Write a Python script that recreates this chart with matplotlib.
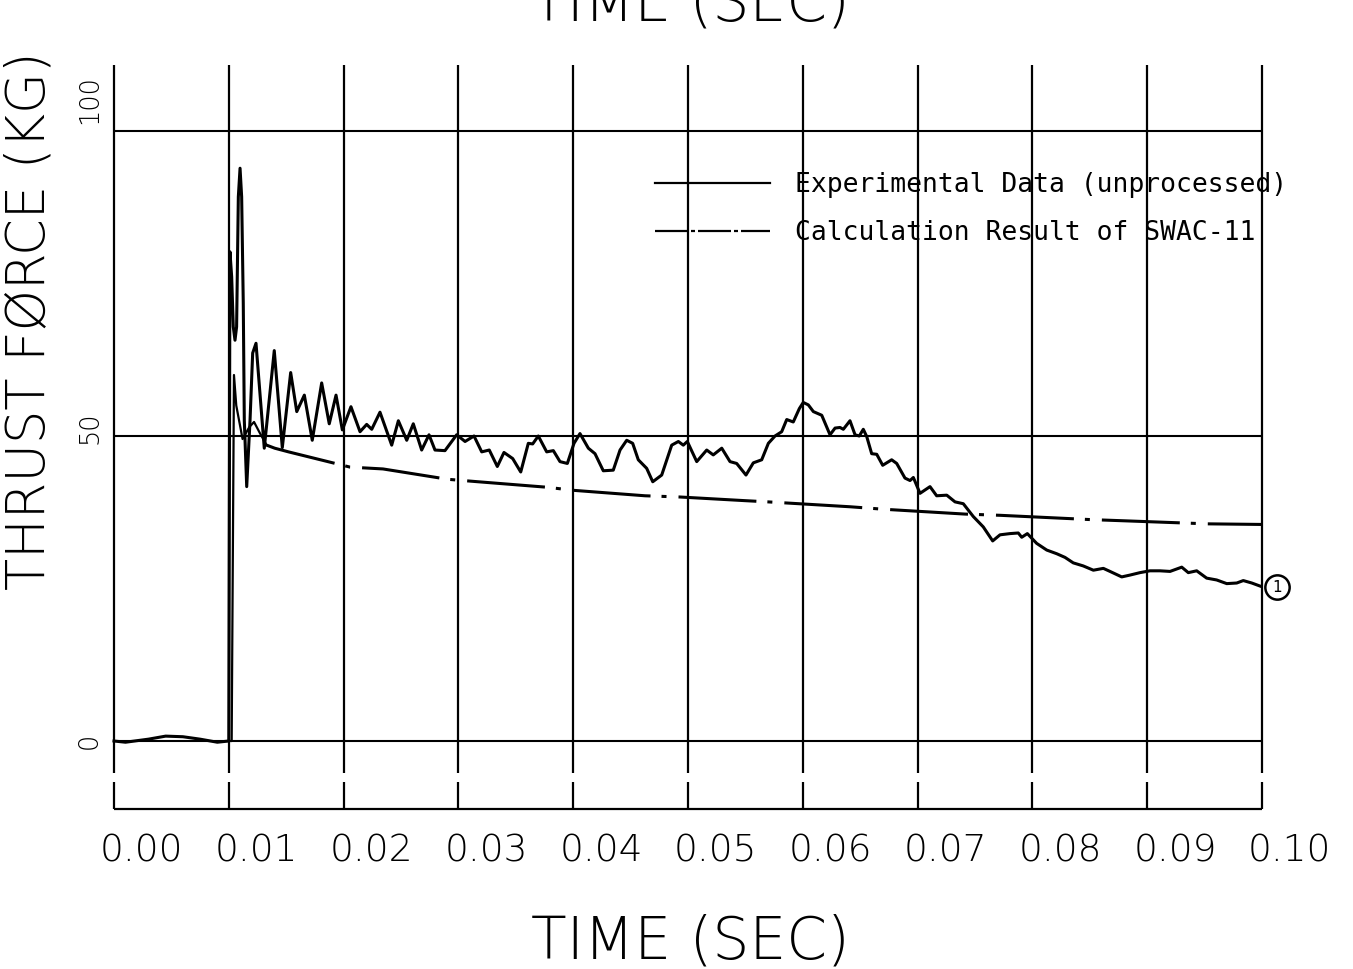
import numpy as np
import matplotlib
matplotlib.use("Agg")
import matplotlib.pyplot as plt
from matplotlib.lines import Line2D
from matplotlib.font_manager import FontProperties
import matplotlib.transforms as mtransforms

# ---------------- data ----------------
x_ticks = [0.00, 0.01, 0.02, 0.03, 0.04, 0.05, 0.06, 0.07, 0.08, 0.09, 0.10]
x_tick_labels = ["0.00", "0.01", "0.02", "0.03", "0.04", "0.05",
                 "0.06", "0.07", "0.08", "0.09", "0.10"]
y_grid = [0, 50, 100]
y_tick_labels = ["0", "50", "100"]
y_label_pos = [0.0, 51.3, 105.1]

exp_t = [0.0, 0.001, 0.003, 0.0045, 0.006, 0.0075, 0.009, 0.0100,
         0.01010, 0.01025, 0.01039, 0.01054, 0.01068, 0.01083, 0.01098, 0.01112,
         0.01126, 0.01135, 0.01156, 0.01185, 0.01208, 0.01237, 0.01309, 0.01396,
         0.01466, 0.01539, 0.01592, 0.01658, 0.01727, 0.01809, 0.01875, 0.01934,
         0.01989, 0.02064, 0.02143, 0.02201, 0.02245, 0.02317, 0.02419, 0.02477,
         0.02550, 0.02607, 0.02680, 0.02744, 0.02796, 0.02883, 0.02985, 0.03058,
         0.03136, 0.03203, 0.03269, 0.03339, 0.03397, 0.03473, 0.03543, 0.03609,
         0.03647, 0.03696, 0.03769, 0.03827, 0.03885, 0.03949, 0.04007, 0.04059,
         0.04132, 0.04190, 0.04262, 0.04349, 0.04408, 0.04466, 0.04518, 0.04567,
         0.04640, 0.04693, 0.04771, 0.04858, 0.04916, 0.04959, 0.04994, 0.05076,
         0.05163, 0.05220, 0.05294, 0.05366, 0.05424, 0.05505, 0.05569, 0.05642,
         0.05700, 0.05758, 0.05816, 0.05860, 0.05917, 0.05970, 0.06004, 0.06048,
         0.06092, 0.06165, 0.06237, 0.06281, 0.06324, 0.06353, 0.06411, 0.06455,
         0.06492, 0.06527, 0.06557, 0.06600, 0.06644, 0.06696, 0.06774, 0.06818,
         0.06890, 0.06934, 0.06963, 0.07021, 0.07108, 0.07166, 0.07254, 0.07326,
         0.07398, 0.07485, 0.07572, 0.07654, 0.07718, 0.07805, 0.07877, 0.07907,
         0.07956, 0.08037, 0.08125, 0.08212, 0.08284, 0.08356, 0.08443, 0.08531,
         0.08618, 0.08676, 0.08778, 0.08850, 0.08937, 0.09024, 0.09111, 0.09199,
         0.09301, 0.09358, 0.09431, 0.09518, 0.09605, 0.09693, 0.09780, 0.09837,
         0.09911, 0.09983]
exp_f = [0.0, -0.2, 0.3, 0.8, 0.7, 0.3, -0.2, 0.0,
         80.2, 76.1, 67.9, 65.7, 67.9, 89.2, 93.9, 89.2,
         71.8, 52.6, 41.7, 52.6, 63.6, 65.2, 48.0, 64.0,
         48.1, 60.4, 54.0, 56.7, 49.3, 58.7, 52.0, 56.7,
         51.0, 54.8, 50.7, 51.9, 51.1, 53.9, 48.5, 52.5,
         49.3, 52.0, 47.7, 50.2, 47.7, 47.6, 50.2, 49.1,
         50.0, 47.4, 47.7, 45.0, 47.3, 46.3, 44.1, 48.8,
         48.7, 50.0, 47.4, 47.6, 45.8, 45.5, 48.8, 50.4,
         48.0, 47.1, 44.3, 44.4, 47.7, 49.3, 48.8, 46.1,
         44.7, 42.5, 43.6, 48.5, 49.1, 48.5, 49.1, 45.8,
         47.7, 46.9, 48.0, 45.8, 45.5, 43.6, 45.6, 46.1,
         48.8, 50.0, 50.7, 52.7, 52.3, 54.5, 55.5, 55.1,
         54.0, 53.4, 50.2, 51.3, 51.4, 51.1, 52.5, 50.2,
         50.0, 51.1, 49.9, 47.1, 47.0, 45.2, 46.1, 45.5,
         43.1, 42.7, 43.2, 40.6, 41.7, 40.2, 40.3, 39.2,
         38.9, 36.8, 35.1, 32.8, 33.8, 34.0, 34.1, 33.4,
         34.0, 32.4, 31.3, 30.7, 30.1, 29.2, 28.7, 28.0,
         28.3, 27.8, 26.9, 27.2, 27.6, 27.9, 27.9, 27.8,
         28.5, 27.6, 27.9, 26.7, 26.4, 25.8, 25.9, 26.3,
         25.9, 25.4]

calc_t = [0.0100, 0.01025, 0.01045, 0.01065, 0.0112, 0.0118, 0.0122, 0.0127,
          0.0133, 0.0140, 0.0152, 0.02056, 0.02343, 0.02909, 0.03171, 0.03772,
          0.03998, 0.04626, 0.04930, 0.05497, 0.05697, 0.06411, 0.06699, 0.07413,
          0.07718, 0.08502, 0.08798, 0.09521, 0.1000]
calc_f = [0.0, 0.0, 60.0, 55.0, 49.5, 51.5, 52.3, 50.5,
          48.5, 48.0, 47.4, 44.9, 44.6, 42.9, 42.5, 41.6,
          41.1, 40.2, 40.0, 39.4, 39.2, 38.4, 38.0, 37.2,
          37.0, 36.3, 36.1, 35.6, 35.5]
calc_split = 8          # transient part drawn solid, remainder dash-dot

end_marker = (0.10131, 25.2)

legend_labels = ["Experimental Data (unprocessed)",
                 "Calculation Result of SWAC-11"]

# ---------------- figure ----------------
W, H, DPI = 1353, 969, 100
fig = plt.figure(figsize=(W / DPI, H / DPI), dpi=DPI)
fig.patch.set_facecolor("white")

ax_left, ax_right, ax_top, ax_bot = 114, 1262, 65, 809
ax = fig.add_axes([ax_left / W, 1 - ax_bot / H, (ax_right - ax_left) / W,
                   (ax_bot - ax_top) / H])
px_per_unit = 6.1
y0_px = 741
ylo = (y0_px - ax_bot) / px_per_unit
yhi = (y0_px - ax_top) / px_per_unit
ax.set_xlim(0, 0.1)
ax.set_ylim(ylo, yhi)
ax.axis("off")

# grid frame
gap_top = (y0_px - 773) / px_per_unit
gap_bot = (y0_px - 782) / px_per_unit
ax.vlines(x_ticks, gap_top, yhi, color="black", lw=1.6, clip_on=False, zorder=1)
ax.vlines(x_ticks, ylo, gap_bot, color="black", lw=1.6, clip_on=False, zorder=1)
ax.hlines(ylo, 0, 0.1, color="black", lw=1.6, clip_on=False, zorder=1)
ax.hlines(y_grid, 0, 0.1, color="black", lw=1.5, clip_on=False, zorder=1)

# experimental curve
ax.plot(exp_t, exp_f, color="black", lw=2.2, solid_joinstyle="round",
        clip_on=False, zorder=3)

# calculated curve
calc_lw = 2.2
ax.plot(calc_t[:calc_split + 1], calc_f[:calc_split + 1], color="black",
        lw=1.6, clip_on=False, zorder=3)
t_dash = calc_t[calc_split:]
f_dash = calc_f[calc_split:]
(calc_line,) = ax.plot(t_dash, f_dash, color="black", lw=calc_lw,
                       clip_on=False, zorder=3)
# dash pattern (pixels): dash 78, gap 11, dot 5, gap 12
u = calc_lw * DPI / 72.0
pat_px = [78, 11, 5, 12]
P = sum(pat_px)
pts = ax.transData.transform(np.column_stack([t_dash, f_dash]))
x0_px = float(ax.transData.transform((0.0, 0.0))[0])
dot_target = x0_px + (350.5 - 114)
s_dot = float(dot_target - pts[0, 0])
off_px = (91.5 - s_dot) % P
calc_line.set_linestyle((off_px / u, tuple(p / u for p in pat_px)))

ax.plot([end_marker[0]], [end_marker[1]], marker="o", ms=17.5, mfc="white",
        mec="black", mew=1.8, clip_on=False, zorder=4)
ax.text(end_marker[0], end_marker[1], "1", ha="center", va="center",
        fontsize=11, family="DejaVu Sans", zorder=5, clip_on=False)

# x tick labels
xoff = mtransforms.offset_copy(ax.transData, fig=fig, x=-14, y=0, units="dots")
y_lab = (y0_px - 862) / px_per_unit
for xv, lab in zip(x_ticks, x_tick_labels):
    ax.text(xv, y_lab, lab, ha="left", va="baseline", fontsize=27,
            family="DejaVu Sans", fontweight="light", transform=xoff,
            clip_on=False)

# y tick labels
yoff = mtransforms.offset_copy(ax.get_yaxis_transform(), fig=fig, x=-17, y=0,
                               units="dots")
for yv, lab in zip(y_label_pos, y_tick_labels):
    ax.text(0, yv, lab, rotation=90, rotation_mode="anchor", ha="center",
            va="baseline", fontsize=18.5, family="DejaVu Sans",
            fontweight="light", transform=yoff, clip_on=False)

# axis titles
fig.text(690 / W, 1 - 958 / H, "TIME (SEC)", ha="center", va="baseline",
         fontsize=42, family="DejaVu Sans", fontweight="light")
fig.text(690 / W, 1 - 21 / H, "TIME (SEC)", ha="center", va="baseline",
         fontsize=42, family="DejaVu Sans", fontweight="light")
fig.text(45 / W, 1 - 590 / H, "THRUST FØRCE (KG)", rotation=90,
         rotation_mode="anchor", ha="left", va="baseline", fontsize=38,
         family="DejaVu Sans", fontweight="light")

# legend
fs = 19
fs_px = fs * DPI / 72
h1 = Line2D([], [], color="black", lw=1.6)
lw2 = 1.6
u2 = lw2 * DPI / 72
h2 = Line2D([], [], color="black", lw=lw2,
            linestyle=(0, (33 / u2, 3 / u2, 4 / u2, 3 / u2)))
ax.legend([h1, h2], legend_labels, loc="upper left",
          bbox_to_anchor=(655 / W, 1 - 172 / H), bbox_transform=fig.transFigure,
          frameon=False, prop=FontProperties(family="DejaVu Sans Mono", size=fs),
          handlelength=115 / fs_px, handletextpad=25 / fs_px,
          labelspacing=0.84, borderpad=0, borderaxespad=0)

fig.savefig("out.png", dpi=DPI, facecolor="white")
